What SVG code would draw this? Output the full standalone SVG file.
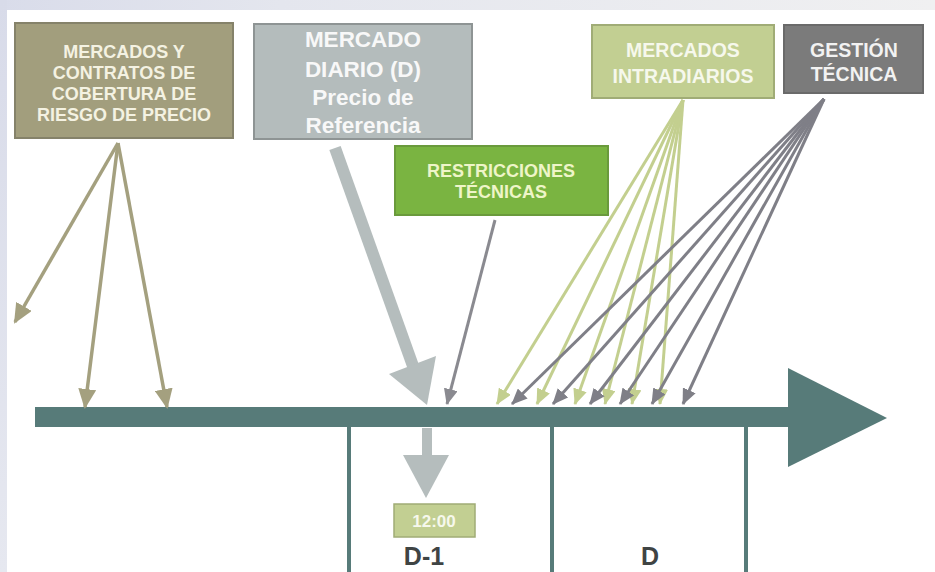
<svg xmlns="http://www.w3.org/2000/svg" width="935" height="572" viewBox="0 0 935 572">
  <defs>
    <linearGradient id="topg" x1="0" y1="0" x2="1" y2="0">
      <stop offset="0" stop-color="#d9dcea"/>
      <stop offset="0.3" stop-color="#e4e6ee"/>
      <stop offset="1" stop-color="#f0f0f1"/>
    </linearGradient>
    <linearGradient id="leftg" x1="0" y1="0" x2="0" y2="1">
      <stop offset="0" stop-color="#d8dbe9"/>
      <stop offset="1" stop-color="#e6e8f0"/>
    </linearGradient>
    <marker id="hk" markerUnits="userSpaceOnUse" markerWidth="20" markerHeight="18" refX="18" refY="9" orient="auto">
      <path d="M0,0 L20,9 L0,18 z" fill="#a4a07f"/>
    </marker>
    <marker id="hg" markerUnits="userSpaceOnUse" markerWidth="16" markerHeight="14" refX="15" refY="7" orient="auto">
      <path d="M0,0 L16,7 L0,14 z" fill="#c3cf8f"/>
    </marker>
    <marker id="hd" markerUnits="userSpaceOnUse" markerWidth="16" markerHeight="14" refX="15" refY="7" orient="auto">
      <path d="M0,0 L16,7 L0,14 z" fill="#7f7f87"/>
    </marker>
    <marker id="hr" markerUnits="userSpaceOnUse" markerWidth="16" markerHeight="14" refX="15" refY="7" orient="auto">
      <path d="M0,0 L16,7 L0,14 z" fill="#8a8a90"/>
    </marker>
  </defs>
  <style>
    .t { font-family: "Liberation Sans", Arial, sans-serif; font-weight: bold; text-anchor: middle; }
    .k { stroke: #a4a07f; stroke-width: 3.5; fill: none; }
    .g { stroke: #c3cf8f; stroke-width: 3; fill: none; }
    .d { stroke: #7f7f87; stroke-width: 3; fill: none; }
    .tick { fill: #577b79; }
  </style>

  <rect x="0" y="0" width="935" height="572" fill="#ffffff"/>
  <rect x="0" y="0" width="935" height="10" fill="url(#topg)"/>
  <rect x="0" y="0" width="7" height="572" fill="url(#leftg)"/>

  <g id="timeline">
    <rect x="35" y="407" width="756" height="20" fill="#577b79"/>
    <polygon points="788,368 887,418 788,467" fill="#577b79"/>
    <rect class="tick" x="347" y="427" width="4" height="145"/>
    <rect class="tick" x="550" y="427" width="4" height="145"/>
    <rect class="tick" x="744" y="427" width="4" height="145"/>
  </g>

  <g id="connectors">
    <line class="k" x1="118" y1="143" x2="15" y2="322" marker-end="url(#hk)"/>
    <line class="k" x1="118" y1="143" x2="85" y2="407" marker-end="url(#hk)"/>
    <line class="k" x1="118" y1="143" x2="167" y2="407" marker-end="url(#hk)"/>

    <line x1="335" y1="148" x2="413" y2="366" stroke="#b5bdbd" stroke-width="12"/>
    <polygon points="427,405 436,356 389,374" fill="#b5bdbd"/>

    <line x1="495" y1="220" x2="447" y2="404" stroke="#8a8a90" stroke-width="3" marker-end="url(#hr)"/>

    <line class="g" x1="683" y1="100" x2="497" y2="404" marker-end="url(#hg)"/>
    <line class="g" x1="683" y1="100" x2="537" y2="404" marker-end="url(#hg)"/>
    <line class="g" x1="683" y1="100" x2="575" y2="404" marker-end="url(#hg)"/>
    <line class="g" x1="683" y1="100" x2="605" y2="404" marker-end="url(#hg)"/>
    <line class="g" x1="683" y1="100" x2="632" y2="404" marker-end="url(#hg)"/>
    <line class="g" x1="683" y1="100" x2="660" y2="404" marker-end="url(#hg)"/>

    <line class="d" x1="824" y1="99" x2="512" y2="404" marker-end="url(#hd)"/>
    <line class="d" x1="824" y1="99" x2="553" y2="404" marker-end="url(#hd)"/>
    <line class="d" x1="824" y1="99" x2="590" y2="404" marker-end="url(#hd)"/>
    <line class="d" x1="824" y1="99" x2="620" y2="404" marker-end="url(#hd)"/>
    <line class="d" x1="824" y1="99" x2="652" y2="404" marker-end="url(#hd)"/>
    <line class="d" x1="824" y1="99" x2="683" y2="404" marker-end="url(#hd)"/>

    <rect x="422" y="428" width="10" height="28" fill="#b5bdbd"/>
    <polygon points="403,455 449,455 426,498" fill="#b5bdbd"/>
  </g>

  <g id="box-cobertura">
    <rect x="15" y="23" width="218" height="115" fill="#a29e7d" stroke="#85826a" stroke-width="2"/>
    <text class="t" x="124" y="58" font-size="18" fill="#f4f2e2">MERCADOS Y</text>
    <text class="t" x="124" y="79" font-size="18" fill="#f4f2e2">CONTRATOS DE</text>
    <text class="t" x="124" y="100" font-size="18" fill="#f4f2e2">COBERTURA DE</text>
    <text class="t" x="124" y="121" font-size="18" fill="#f4f2e2">RIESGO DE PRECIO</text>
  </g>

  <g id="box-diario">
    <rect x="254" y="24" width="218" height="115" fill="#b4bcbc" stroke="#8e9494" stroke-width="2"/>
    <text class="t" x="363" y="47" font-size="22.5" fill="#f8f8f8">MERCADO</text>
    <text class="t" x="363" y="77" font-size="22.5" fill="#f8f8f8">DIARIO (D)</text>
    <text class="t" x="363" y="105" font-size="22.5" fill="#f8f8f8">Precio de</text>
    <text class="t" x="363" y="133" font-size="22.5" fill="#f8f8f8">Referencia</text>
  </g>

  <g id="box-restricciones">
    <rect x="395" y="146" width="213" height="69" fill="#7ab441" stroke="#6a9a3c" stroke-width="2"/>
    <text class="t" x="501" y="177" font-size="18" fill="#eef5c8">RESTRICCIONES</text>
    <text class="t" x="501" y="198" font-size="18" fill="#eef5c8">TÉCNICAS</text>
  </g>

  <g id="box-intradiarios">
    <rect x="592" y="25" width="182" height="73" fill="#c2cf92" stroke="#a0ac76" stroke-width="2"/>
    <text class="t" x="683" y="57" font-size="19.5" fill="#f6f8ec">MERCADOS</text>
    <text class="t" x="683" y="83" font-size="19.5" fill="#f6f8ec">INTRADIARIOS</text>
  </g>

  <g id="box-gestion">
    <rect x="784" y="25" width="139" height="68" fill="#7b7b7b" stroke="#6a6a6a" stroke-width="2"/>
    <text class="t" x="854" y="57" font-size="19.5" fill="#f2f2f2">GESTIÓN</text>
    <text class="t" x="854" y="81" font-size="19.5" fill="#f2f2f2">TÉCNICA</text>
  </g>

  <g id="box-1200">
    <rect x="394" y="504" width="81" height="33" fill="#c2cf92" stroke="#a0ac76" stroke-width="1.5"/>
    <text class="t" x="434" y="527" font-size="17" fill="#f6f8ec">12:00</text>
  </g>

  <g id="labels">
    <text class="t" x="424" y="565" font-size="25" fill="#3f4444">D-1</text>
    <text class="t" x="650" y="565" font-size="25" fill="#3f4444">D</text>
  </g>
</svg>
